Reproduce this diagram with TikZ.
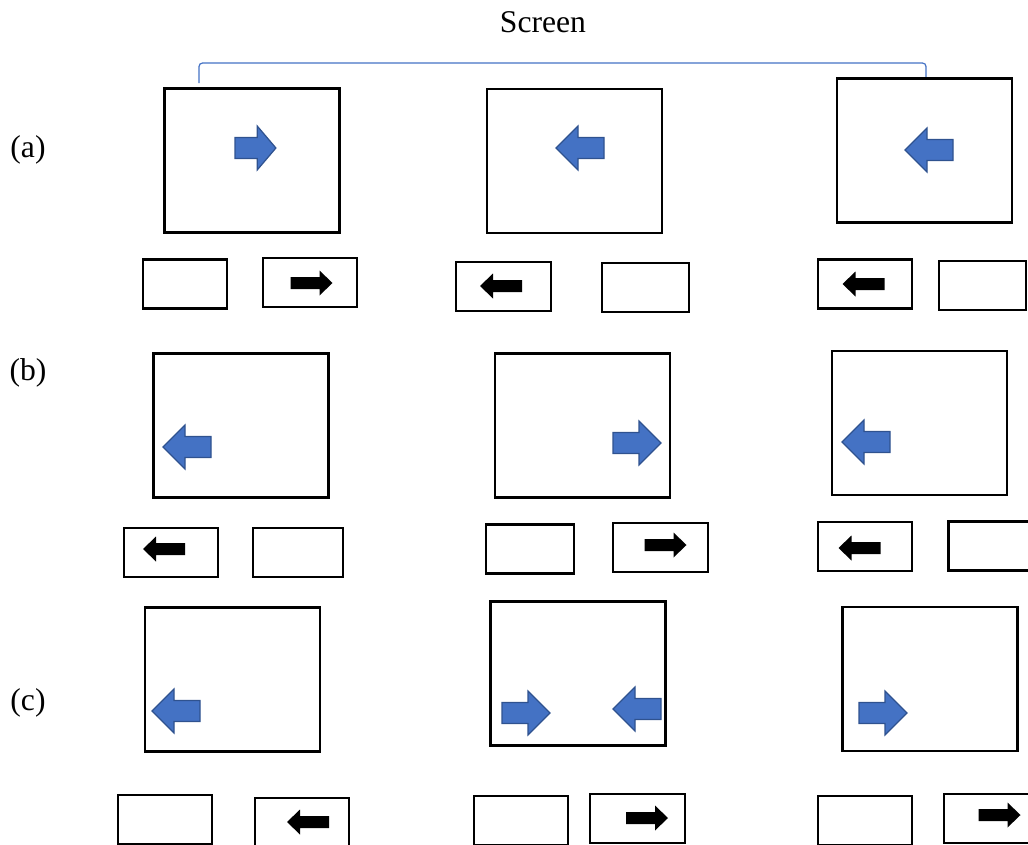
\documentclass[tikz,border=0pt]{standalone}
\usepackage{fontspec}
\setmainfont{Liberation Serif}
\definecolor{arrowblue}{RGB}{68,114,196}
\definecolor{arrowedge}{RGB}{47,82,143}

\begin{document}
\begin{tikzpicture}[x=0.02cm, y=-0.02cm,
				screen/.style={draw, line width=1.4pt, minimum width=3.5cm, minimum height=2.88cm, inner sep=0pt},
				button/.style={draw, line width=1.2pt, minimum width=#1*0.02cm, minimum height=0.98cm, inner sep=0pt},
				bracket/.style={draw=arrowblue, line width=0.7pt, rounded corners=2pt},
				label/.style={font=\fontsize{18}{20}\selectfont},
				bluearrow/.pic={\draw[arrowedge, fill=arrowblue, line width=0.7pt] (-24,-10.5) -- (2,-10.5) -- (2,-22) -- (24,0) -- (2,22) -- (2,10.5) -- (-24,10.5) -- cycle;},
				blackarrow/.pic={\fill[black] (-21,-6) -- (8,-6) -- (8,-12.5) -- (21,0) -- (8,12.5) -- (8,6) -- (-21,6) -- cycle;}]
				\useasboundingbox (0,0) rectangle (1028,845);
				% Beschriftung
				\node[label] (title) at (543,22) {Screen};
				\node[label] (rowa) at (28,150) {(a)};
				\node[label] (rowb) at (28,373) {(b)};
				\node[label] (rowc) at (28,703) {(c)};
				% Klammer ueber den Bildschirmen
				\coordinate (brL) at (199,83);
				\coordinate (brR) at (926,78);
				\draw[bracket] (brL) -- ++(0,-20) -| (brR);
				% Bildschirme
				\foreach \n/\x/\y in {sa1/252/160.5, sa2/574.5/161, sa3/924.5/150.5,
						sb1/241/425.5, sb2/582.5/425.5, sb3/919.5/423,
						sc1/232.5/679.5, sc2/578/673.5, sc3/930/679}
					\node[screen] (\n) at (\x,\y) {};
				% Tasten
				\foreach \n/\x/\y/\w in {ba1/185/284/84, ba2/310/282.5/94, ba3/503.5/286.5/95, ba4/645.5/287.5/87, ba5/865/284/94, ba6/982.5/285.5/87,
						bb1/171/552.5/94, bb2/298/552.5/90, bb3/530/549/88, bb4/660.5/547.5/95, bb5/865/546.5/94, bb6/992/546/87,
						bc1/165/819.5/94, bc2/302/822.5/94, bc3/521/820.5/94, bc4/637.5/818.5/95, bc5/865/820.5/94, bc6/991/818.5/94}
					\node[button=\w] (\n) at (\x,\y) {};
				% Pfeile auf den Bildschirmen
				\pic[xscale=0.85] at (255.5,148) {bluearrow};
				\pic[rotate=180] at (580,148) {bluearrow};
				\pic[rotate=180] at (929,150) {bluearrow};
				\pic[rotate=180] at (187,447) {bluearrow};
				\pic at (637,443) {bluearrow};
				\pic[rotate=180] at (866,442) {bluearrow};
				\pic[rotate=180] at (176,711) {bluearrow};
				\pic at (526,713) {bluearrow};
				\pic[rotate=180] at (637,709) {bluearrow};
				\pic at (883,713) {bluearrow};
				% Pfeile auf den Tasten
				\pic at (311.5,283) {blackarrow};
				\pic[rotate=180] at (501,286) {blackarrow};
				\pic[rotate=180] at (863.5,284) {blackarrow};
				\pic[rotate=180] at (164,549) {blackarrow};
				\pic at (665.5,545) {blackarrow};
				\pic[rotate=180] at (859.5,548) {blackarrow};
				\pic[rotate=180] at (308,822) {blackarrow};
				\pic at (647,818) {blackarrow};
				\pic at (999.5,815) {blackarrow};
			\end{tikzpicture}
\end{document}
